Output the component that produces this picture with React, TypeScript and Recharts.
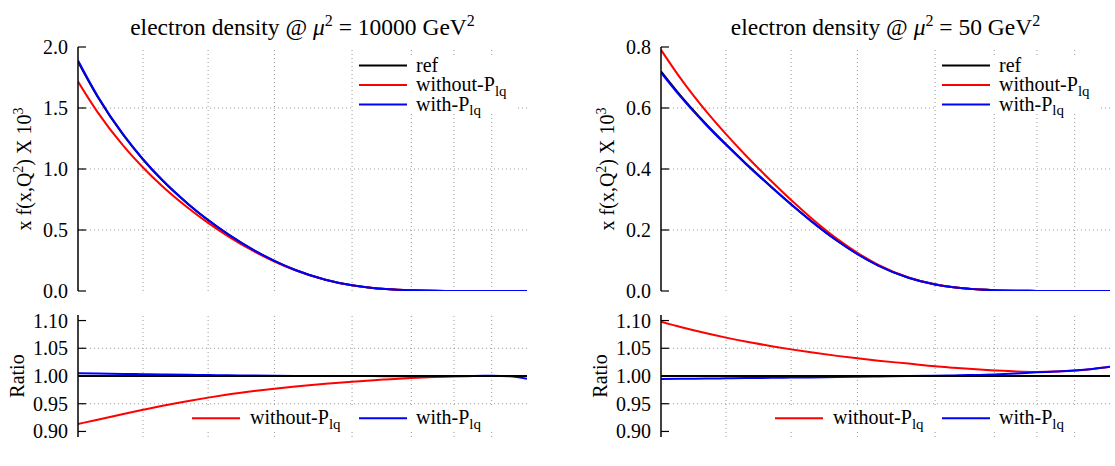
import React from "react";
import { LineChart, Line, XAxis, YAxis, ReferenceLine } from "recharts";

// ---------- data ----------
const xValues = [1e-5, 2e-5, 5e-5, 1e-4, 2e-4, 5e-4, 1e-3, 2e-3, 5e-3, 1e-2, 2e-2, 5e-2, 0.1, 0.15, 0.2, 0.3, 0.4, 0.5, 0.6, 0.7, 0.8, 0.9];

// mu^2 = 10000 GeV^2
const ref10000 = [1.88, 1.592, 1.2765, 1.0779, 0.9051, 0.7099, 0.5806, 0.4658, 0.3332, 0.2471, 0.1723, 0.0924, 0.0466, 0.0264, 0.0156, 0.0055, 0.0019, 0.0006, 0.00017, 0.000045, 0.00001, 0.000003];
const without10000 = [1.7174, 1.4665, 1.1889, 1.0121, 0.8565, 0.678, 0.558, 0.4502, 0.3241, 0.2415, 0.169, 0.0911, 0.0461, 0.0262, 0.0155, 0.00548, 0.0019, 0.0006, 0.00017, 0.000045, 0.00001, 0.000003];
const with10000 = [1.889, 1.599, 1.2812, 1.0813, 0.9075, 0.7114, 0.5815, 0.4664, 0.3334, 0.2472, 0.1723, 0.0924, 0.0466, 0.0264, 0.0156, 0.0055, 0.0019, 0.0006, 0.00017, 0.000045, 0.00001, 0.000003];
const ratioRef10000 = [1, 1, 1, 1, 1, 1, 1, 1, 1, 1, 1, 1, 1, 1, 1, 1, 1, 1, 1, 1, 1, 1];
const ratioWithout10000 = [0.9135, 0.9212, 0.9314, 0.939, 0.9463, 0.955, 0.961, 0.9665, 0.9728, 0.9772, 0.9811, 0.986, 0.9898, 0.9921, 0.9937, 0.9962, 0.998, 0.9992, 0.9998, 1.0, 1.0001, 1.0];
const ratioWith10000 = [1.0048, 1.0043, 1.0037, 1.0032, 1.0027, 1.0021, 1.0016, 1.0012, 1.0007, 1.0004, 1.0002, 1.0, 0.9999, 0.9998, 0.9997, 0.9996, 0.9996, 0.9998, 1.0002, 1.0004, 0.9995, 0.995];

// mu^2 = 50 GeV^2
const ref50 = [0.72, 0.6404, 0.546, 0.481, 0.419, 0.3412, 0.2844, 0.2306, 0.1651, 0.1214, 0.0834, 0.0435, 0.0214, 0.012, 0.00706, 0.00254, 0.00091, 0.00031, 0.0001, 0.00003, 0.00001, 0.000003];
const without50 = [0.7906, 0.697, 0.588, 0.5143, 0.445, 0.3596, 0.2981, 0.2404, 0.1711, 0.1253, 0.0857, 0.0445, 0.0218, 0.0122, 0.00715, 0.00257, 0.00092, 0.00031, 0.0001, 0.00003, 0.00001, 0.000003];
const with50 = [0.716, 0.6371, 0.5435, 0.479, 0.4174, 0.3401, 0.2836, 0.23, 0.1648, 0.1212, 0.0833, 0.0435, 0.0214, 0.012, 0.00706, 0.00254, 0.00091, 0.00031, 0.0001, 0.00003, 0.00001, 0.000003];
const ratioRef50 = [1, 1, 1, 1, 1, 1, 1, 1, 1, 1, 1, 1, 1, 1, 1, 1, 1, 1, 1, 1, 1, 1];
const ratioWithout50 = [1.098, 1.0884, 1.077, 1.0692, 1.0621, 1.0538, 1.048, 1.0427, 1.0363, 1.0318, 1.0276, 1.0224, 1.0175, 1.0149, 1.0129, 1.01, 1.008, 1.0072, 1.0079, 1.0098, 1.0128, 1.0168];
const ratioWith50 = [0.9945, 0.9949, 0.9954, 0.9958, 0.9962, 0.9967, 0.9971, 0.9975, 0.9981, 0.9986, 0.9991, 0.9998, 1.0005, 1.0011, 1.0016, 1.0027, 1.0045, 1.0066, 1.008, 1.0099, 1.0128, 1.0168];

// ticks
const xMajorTicks = [1e-5, 1e-4, 1e-3, 1e-2, 0.1, 0.3, 0.5, 0.7, 0.9];
const xTickLabels = ["10^-5", "10^-4", "10^-3", "10^-2", "0.1", ".3", ".5", ".7", ".9"];
const xMinorTicks = [2e-5, 5e-5, 2e-4, 5e-4, 2e-3, 5e-3, 2e-2, 5e-2, 0.2, 0.4, 0.6, 0.8];
const yTicks10000 = [0, 0.5, 1.0, 1.5, 2.0];
const yTicks50 = [0, 0.2, 0.4, 0.6, 0.8];
const ratioTicks = [0.9, 0.95, 1.0, 1.05, 1.1];

const titles = ["electron density @ ", "electron density @ "];
const titleScales = ["10000", "50"];
const seriesNames = ["ref", "without-P", "with-P"];

// ---------- x scale: ln(x) + 5x ----------
const toT = (x: number) => Math.log(x) + 5 * x;
const T_MIN = toT(xValues[0]);
const T_MAX = toT(0.9);
const majorT = xMajorTicks.map(toT);
const allTicksT = [...xMajorTicks, ...xMinorTicks].sort((a, b) => a - b).map(toT);

const FONT = '"Liberation Serif", "Times New Roman", "DejaVu Serif", serif';
const RED = "#ff0000";
const BLUE = "#0000ff";
const FS = 20;

const buildRows = (a: number[], b: number[], c: number[]) =>
  xValues.map((x, i) => ({ t: toT(x), ref: a[i], without: b[i], with: c[i] }));

const top10000 = buildRows(ref10000, without10000, with10000);
const bot10000 = buildRows(ratioRef10000, ratioWithout10000, ratioWith10000);
const top50 = buildRows(ref50, without50, with50);
const bot50 = buildRows(ratioRef50, ratioWithout50, ratioWith50);

function makeXTick(side: "bottom" | "top", showLabels: boolean) {
  return (props: any) => {
    const { x, y, payload } = props;
    const v = payload.value;
    const idx = majorT.findIndex((m) => Math.abs(m - v) < 1e-9);
    const len = idx >= 0 ? 8 : 4.5;
    const dir = side === "bottom" ? -1 : 1;
    let label: any = null;
    if (showLabels && idx >= 0) {
      const parts = xTickLabels[idx].split("^");
      label = (
        <text x={x} y={y + 20} textAnchor="middle" fontSize={FS} fontFamily={FONT} fill="#000">
          {parts[0]}
          {parts.length > 1 ? (
            <tspan dy={-8} fontSize={14}>
              {parts[1]}
            </tspan>
          ) : null}
        </text>
      );
    }
    return (
      <g>
        <line x1={x} y1={y} x2={x} y2={y + dir * len} stroke="#000" strokeWidth={1.2} />
        {label}
      </g>
    );
  };
}

function makeYTick(side: "left" | "right", digits: number) {
  return (props: any) => {
    const { x, y, payload } = props;
    const dir = side === "left" ? 1 : -1;
    return (
      <g>
        <line x1={x} y1={y} x2={x + dir * 8} y2={y} stroke="#000" strokeWidth={1.2} />
        {side === "left" ? (
          <text x={x - 10} y={y} dy="0.35em" textAnchor="end" fontSize={FS} fontFamily={FONT} fill="#000">
            {Number(payload.value).toFixed(digits)}
          </text>
        ) : null}
      </g>
    );
  };
}

type PanelProps = {
  data: any[];
  width: number;
  height: number;
  margin: any;
  yDomain: [number, number];
  yTicks: number[];
  digits: number;
  showXLabels: boolean;
  ratio: boolean;
};

function Panel({ data, width, height, margin, yDomain, yTicks, digits, showXLabels, ratio }: PanelProps) {
  const axisLine = { stroke: "#000", strokeWidth: 1.5 };
  const grid = { stroke: "#9a9a9a", strokeDasharray: "1 3", strokeWidth: 1 };
  const innerX = majorT.slice(1, majorT.length - 1);
  const innerY = yTicks.slice(1, yTicks.length - 1);
  const line = (key: string, color: string) => (
    <Line
      key={key}
      xAxisId="b"
      yAxisId="l"
      dataKey={key}
      type="monotone"
      stroke={color}
      strokeWidth={2}
      dot={false}
      activeDot={false}
      isAnimationActive={false}
    />
  );
  return (
    <LineChart width={width} height={height} data={data} margin={margin}>
      <XAxis
        xAxisId="b"
        dataKey="t"
        type="number"
        domain={[T_MIN, T_MAX]}
        ticks={allTicksT}
        interval={0}
        tickSize={0}
        tickMargin={0}
        tickLine={false}
        axisLine={axisLine}
        height={0}
        allowDataOverflow
        tick={makeXTick("bottom", showXLabels)}
      />
      <XAxis
        xAxisId="t"
        orientation="top"
        dataKey="t"
        type="number"
        domain={[T_MIN, T_MAX]}
        ticks={allTicksT}
        interval={0}
        tickSize={0}
        tickMargin={0}
        tickLine={false}
        axisLine={axisLine}
        height={0}
        allowDataOverflow
        tick={makeXTick("top", false)}
      />
      <YAxis
        yAxisId="l"
        width={78}
        type="number"
        domain={yDomain}
        ticks={yTicks}
        interval={0}
        tickSize={0}
        tickMargin={0}
        tickLine={false}
        axisLine={axisLine}
        allowDataOverflow
        tick={makeYTick("left", digits)}
      />
      <YAxis
        yAxisId="r"
        orientation="right"
        width={0}
        type="number"
        domain={yDomain}
        ticks={yTicks}
        interval={0}
        tickSize={0}
        tickMargin={0}
        tickLine={false}
        axisLine={axisLine}
        allowDataOverflow
        tick={makeYTick("right", digits)}
      />
      {innerX.map((t) => (
        <ReferenceLine key={"gx" + t} xAxisId="b" yAxisId="l" x={t} {...grid} />
      ))}
      {innerY.map((v) => (
        <ReferenceLine key={"gy" + v} xAxisId="b" yAxisId="l" y={v} {...grid} />
      ))}
      {ratio
        ? [line("without", RED), line("with", BLUE), line("ref", "#000")]
        : [line("ref", "#000"), line("without", RED), line("with", BLUE)]}
    </LineChart>
  );
}

const PLOT_L = [78, 661];
const PLOT_W = 449;
const TOP_Y0 = 47;
const TOP_Y1 = 291;
const BOT_Y0 = 315;
const BOT_Y1 = 437;
const TOP_H = 310;
const BOT_TOP = 300;

function Sub({ text }: { text: string }) {
  return (
    <>
      {text}
      <tspan dy={4.5} fontSize={15}>
        lq
      </tspan>
    </>
  );
}

function Overlay() {
  return (
    <svg
      width={1115}
      height={466}
      style={{ position: "absolute", left: 0, top: 0, pointerEvents: "none" }}
      fontFamily={FONT}
    >
      {PLOT_L.map((pl, i) => {
        const cx = pl + PLOT_W / 2;
        const rows = [
          { name: seriesNames[0], color: "#000", y: 65.5, sub: false },
          { name: seriesNames[1], color: RED, y: 85, sub: true },
          { name: seriesNames[2], color: BLUE, y: 104.5, sub: true },
        ];
        return (
          <g key={i}>
            <text x={cx} y={35} textAnchor="middle" fontSize={23.5} fill="#000">
              {titles[i]}
              <tspan fontStyle="italic">μ</tspan>
              <tspan dy={-9} fontSize={16}>
                2
              </tspan>
              <tspan dy={9}>{" = " + titleScales[i] + " GeV"}</tspan>
              <tspan dy={-9} fontSize={16}>
                2
              </tspan>
            </text>
            <text
              transform={`translate(${pl - 47}, ${(TOP_Y0 + TOP_Y1) / 2}) rotate(-90)`}
              textAnchor="middle"
              fontSize={FS}
              fill="#000"
            >
              x f(x,Q
              <tspan dy={-8} fontSize={14}>
                2
              </tspan>
              <tspan dy={8}>) X 10</tspan>
              <tspan dy={-8} fontSize={14}>
                3
              </tspan>
            </text>
            <text
              transform={`translate(${pl - 54}, ${(BOT_Y0 + BOT_Y1) / 2}) rotate(-90)`}
              textAnchor="middle"
              fontSize={FS}
              fill="#000"
            >
              Ratio
            </text>
            {/* top legend */}
            <rect x={pl + 275} y={56} width={165} height={57} fill="#fff" />
            {rows.map((r) => (
              <g key={r.name}>
                <line x1={pl + 281} x2={pl + 329} y1={r.y} y2={r.y} stroke={r.color} strokeWidth={2} />
                <text x={pl + 338} y={r.y + 6} fontSize={FS} fill="#000">
                  {r.sub ? <Sub text={r.name} /> : r.name}
                </text>
              </g>
            ))}
            {/* bottom legend */}
            <rect x={pl + 107} y={405} width={333} height={24} fill="#fff" />
            <line x1={pl + 114} x2={pl + 162} y1={418.3} y2={418.3} stroke={RED} strokeWidth={2} />
            <text x={pl + 172} y={424.3} fontSize={FS} fill="#000">
              <Sub text={seriesNames[1]} />
            </text>
            <line x1={pl + 281} x2={pl + 329} y1={418.3} y2={418.3} stroke={BLUE} strokeWidth={2} />
            <text x={pl + 338} y={424.3} fontSize={FS} fill="#000">
              <Sub text={seriesNames[2]} />
            </text>
          </g>
        );
      })}
    </svg>
  );
}

export default function App() {
  const topMarginL = { top: TOP_Y0, right: 560 - PLOT_L[0] - PLOT_W, bottom: TOP_H - TOP_Y1, left: 0 };
  const botMarginL = { top: BOT_Y0 - BOT_TOP, right: 560 - PLOT_L[0] - PLOT_W, bottom: 466 - BOT_Y1, left: 0 };
  const rightLeft = PLOT_L[1] - 78;
  const rightW = 1115 - rightLeft;
  const topMarginR = { top: TOP_Y0, right: rightW - 78 - PLOT_W, bottom: TOP_H - TOP_Y1, left: 0 };
  const botMarginR = { top: BOT_Y0 - BOT_TOP, right: rightW - 78 - PLOT_W, bottom: 466 - BOT_Y1, left: 0 };
  return (
    <div
      style={{
        position: "absolute",
        left: 0,
        top: 0,
        width: 1115,
        height: 466,
        overflow: "hidden",
        background: "#fff",
        fontFamily: FONT,
      }}
    >
      <div style={{ position: "absolute", left: 0, top: BOT_TOP }}>
        <Panel data={bot10000} width={560} height={466 - BOT_TOP} margin={botMarginL} yDomain={[0.89, 1.11]} yTicks={ratioTicks} digits={2} showXLabels={true} ratio={true} />
      </div>
      <div style={{ position: "absolute", left: rightLeft, top: BOT_TOP }}>
        <Panel data={bot50} width={rightW} height={466 - BOT_TOP} margin={botMarginR} yDomain={[0.89, 1.11]} yTicks={ratioTicks} digits={2} showXLabels={true} ratio={true} />
      </div>
      <div style={{ position: "absolute", left: 0, top: 0 }}>
        <Panel data={top10000} width={560} height={TOP_H} margin={topMarginL} yDomain={[0, 2]} yTicks={yTicks10000} digits={1} showXLabels={false} ratio={false} />
      </div>
      <div style={{ position: "absolute", left: rightLeft, top: 0 }}>
        <Panel data={top50} width={rightW} height={TOP_H} margin={topMarginR} yDomain={[0, 0.8]} yTicks={yTicks50} digits={1} showXLabels={false} ratio={false} />
      </div>
      <Overlay />
    </div>
  );
}
